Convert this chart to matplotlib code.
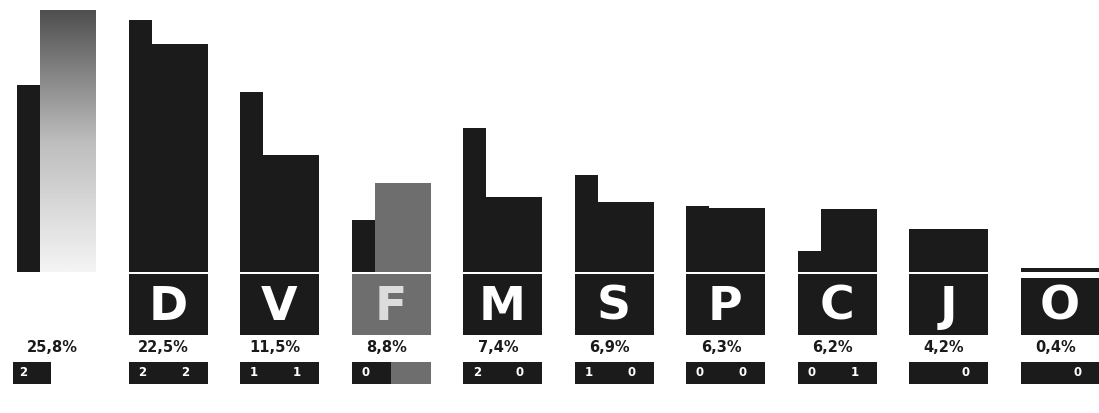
import numpy as np
import matplotlib.pyplot as plt
from matplotlib.colors import LinearSegmentedColormap

# party letters (first one has no visible label in the print)
parties = ['', 'D', 'V', 'F', 'M', 'S', 'P', 'C', 'J', 'O']
pct_now = [25.8, 22.5, 11.5, 8.8, 7.4, 6.9, 6.3, 6.2, 4.2, 0.4]
pct_prev = [18.4, 24.8, 17.7, 5.1, 14.2, 9.6, 6.5, 2.1, None, None]
seats_prev = ['2', '2', '1', '0', '2', '1', '0', '0', '', '']
seats_now = ['', '2', '1', '', '0', '0', '0', '1', '0', '0']

dark = '#1b1b1b'
grey = '#6e6e6e'
now_colors = ['gradient', dark, dark, grey, dark, dark, dark, dark, dark, dark]

fig = plt.figure(figsize=(10.99, 4.13), dpi=100)
ax = fig.add_axes([0, 0, 1, 1])
ax.axis('off')

# vertical scale: baseline at 272 px from top, ~10.15 px per percent
ppx = 10.15
def py(p):
    return (272 - p) / ppx

step = 111.5
w_prev, w_now = 23, 56
for i, p in enumerate(parties):
    x0 = 17 + i * step
    prev = pct_prev[i]
    if prev is not None:
        ax.bar(x0, prev, width=w_prev, align='edge', color=dark, lw=0)
        xn, wn = x0 + w_prev, w_now
    else:
        xn, wn = x0, w_prev + w_now
    c = now_colors[i]
    if c == 'gradient':
        cm = LinearSegmentedColormap.from_list('g', ['#f4f4f4', '#bdbdbd', '#505050'])
        grad = np.linspace(0, 1, 100).reshape(-1, 1)
        ax.imshow(grad, extent=[xn, xn + wn, 0, pct_now[i]], origin='lower',
                  cmap=cm, aspect='auto', zorder=1)
    else:
        ax.bar(xn, pct_now[i], width=wn, align='edge', color=c, lw=0)

    # label box under the baseline
    if p:
        top = py(278) if p == 'O' else py(274)
        ax.bar(x0, py(335) - top, bottom=top, width=w_prev + w_now, align='edge',
               color=c, lw=0)
        ax.text(x0 + (w_prev + w_now) / 2, py(307), p, ha='center', va='center',
                color='#dcdcdc' if c == grey else 'white', fontsize=34,
                fontweight='bold', family='DejaVu Sans')

    # percentage
    lab = f"{pct_now[i]:.1f}".replace('.', ',') + '%'
    ax.text(x0 + 35, py(348), lab, ha='center', va='center', fontsize=10.5,
            fontweight='bold', color='#1a1a1a')

    # seats box, left half = previous, right half = now
    half = (w_prev + w_now) / 2
    lx = x0 - 4 if i == 0 else x0
    ax.bar(lx, py(384) - py(362), bottom=py(362), width=half - 2 if i == 0 else half,
           align='edge', color=dark, lw=0)
    if c != 'gradient':
        ax.bar(x0 + half, py(384) - py(362), bottom=py(362), width=half,
               align='edge', color=c, lw=0)
    ax.text(x0 + 14 - (8 if i == 0 else 0), py(373), seats_prev[i], ha='center',
            va='center', color='white', fontsize=8.5, fontweight='bold')
    ax.text(x0 + 57, py(373), seats_now[i], ha='center', va='center',
            color='white', fontsize=8.5, fontweight='bold')

ax.set_xlim(0, 1099)
ax.set_ylim(py(413), py(0))
fig.savefig('out.png', dpi=100)
